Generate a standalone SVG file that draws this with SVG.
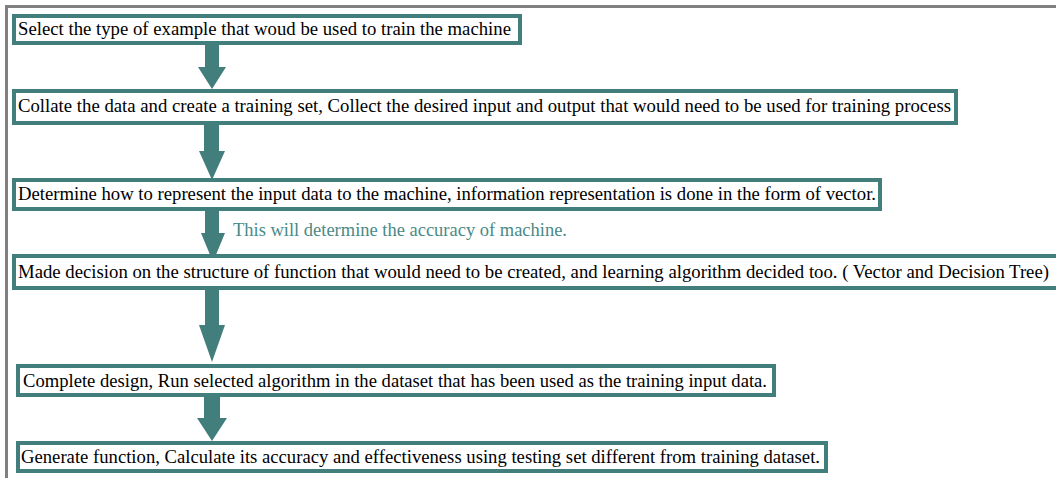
<svg xmlns="http://www.w3.org/2000/svg" width="1056" height="478" viewBox="0 0 1056 478">
<style>
.box{fill:#fff;stroke:#417e7c;stroke-width:4}
.t{font-family:'Liberation Serif',serif;font-size:18px;fill:#000}
.note{font-family:'Liberation Serif',serif;font-size:18px;fill:#4a8a87}
.arr{fill:#417e7c}
</style>
<rect width="1056" height="478" fill="#fff"/>
<path d="M6.5 478 V6.5 H1056" fill="none" stroke="#808080" stroke-width="3"/>
<g id="connectors">
<polygon class="arr" points="205,44 219,44 219,67 226,67 212,89 198,67 205,67"/>
<polygon class="arr" points="204,124 219,124 219,151 225,151 212,180 199,151 204,151"/>
<polygon class="arr" points="205,210 219,210 219,233 225,233 213,262 201,233 205,233"/>
<polygon class="arr" points="205,289 219,289 219,325 225,325 212,362 199,325 205,325"/>
<polygon class="arr" points="204,396 220,396 220,418 227,418 212,441 197,418 204,418"/>
</g>
<g id="n1"><rect class="box" x="14" y="16" width="506" height="27"/><text class="t" x="18" y="35" textLength="493" lengthAdjust="spacingAndGlyphs">Select the type of example that woud be used to train the machine</text></g>
<g id="n2"><rect class="box" x="14" y="91" width="942" height="32"/><text class="t" x="18" y="112" textLength="933" lengthAdjust="spacingAndGlyphs">Collate the data and create a training set, Collect the desired input and output that would need to be used for training process</text></g>
<g id="n3"><rect class="box" x="14" y="180" width="866" height="29"/><text class="t" x="18" y="200" textLength="858" lengthAdjust="spacingAndGlyphs">Determine how to represent the input data to the machine, information representation is done in the form of vector.</text></g>
<g id="note"><text class="note" x="233" y="236" textLength="334" lengthAdjust="spacingAndGlyphs">This will determine the accuracy of machine.</text></g>
<g id="n4"><rect class="box" x="14" y="256" width="1044" height="32"/><text class="t" x="18" y="278" textLength="1031" lengthAdjust="spacingAndGlyphs">Made decision on the structure of function that would need to be created, and learning algorithm decided too. ( Vector and Decision Tree)</text></g>
<g id="n5"><rect class="box" x="18" y="366" width="756" height="29"/><text class="t" x="23" y="387" textLength="744" lengthAdjust="spacingAndGlyphs">Complete design, Run selected algorithm in the dataset that has been used as the training input data.</text></g>
<g id="n6"><rect class="box" x="18" y="443" width="808" height="28"/><text class="t" x="21" y="463" textLength="799" lengthAdjust="spacingAndGlyphs">Generate function, Calculate its accuracy and effectiveness using testing set different from training dataset.</text></g>
</svg>
